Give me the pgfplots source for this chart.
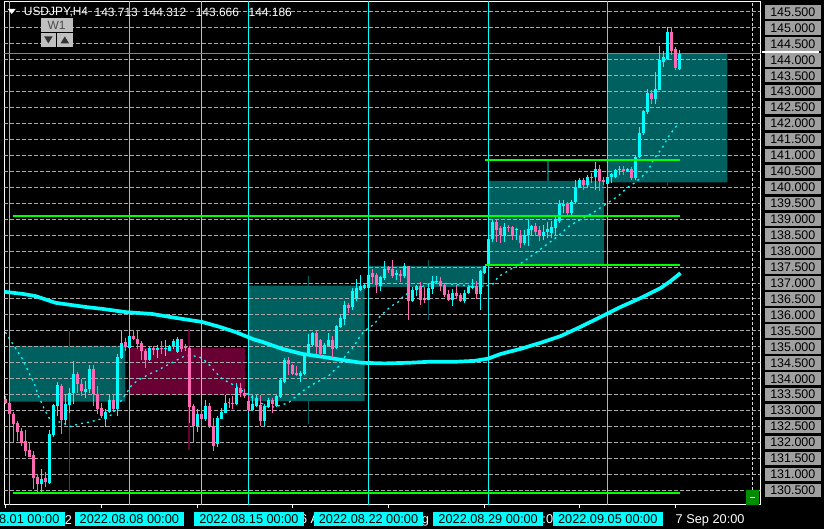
\documentclass[border=0pt]{standalone}
\usepackage{pgfplots}
\pgfplotsset{compat=1.18}
\usepackage{pgfplotstable}
\usepackage{fontspec}
\setmainfont{Liberation Sans}
\definecolor{bull}{RGB}{0,255,255}
\definecolor{bear}{RGB}{255,105,180}
\definecolor{wteal}{RGB}{0,96,96}
\definecolor{wmag}{RGB}{104,0,52}
\definecolor{gridc}{RGB}{170,170,170}
\definecolor{lblgray}{RGB}{160,160,160}
\definecolor{mtgreen}{RGB}{0,255,0}
\definecolor{bidc}{RGB}{119,136,153}
\definecolor{btn}{RGB}{192,192,192}
\newcommand\lbl{\fontsize{12.5bp}{14bp}\selectfont}
\newcommand\xlbl{\fontsize{12.8bp}{14bp}\selectfont}
\newcommand\hdr{\fontsize{12bp}{14bp}\selectfont}

\pgfplotstableread{
i o h l c
-1 133.37 133.45 133.20 133.23
0 133.25 133.30 132.85 132.88
1 132.90 132.97 132.03 132.57
2 132.60 132.68 132.05 132.33
3 132.36 132.47 131.90 131.99
4 132.05 132.39 131.58 131.74
5 131.77 131.99 131.53 131.56
6 131.60 131.74 130.54 130.90
7 130.93 131.00 130.44 130.70
8 130.70 131.17 130.44 130.85
9 130.90 131.06 130.60 130.75
10 130.73 132.39 130.70 132.26
11 132.22 133.22 132.18 133.17
12 133.15 133.90 132.83 133.79
13 133.77 133.82 132.26 132.71
14 132.71 133.51 132.57 133.20
15 133.18 133.72 132.94 133.56
16 133.54 134.55 133.20 134.14
17 134.14 134.20 133.56 133.82
18 133.85 133.98 133.46 133.61
19 133.59 133.93 133.40 133.69
20 133.69 134.43 133.56 134.29
21 134.29 134.42 133.15 133.51
22 133.53 133.77 132.90 133.04
23 133.09 133.25 132.76 132.83
24 132.73 133.04 132.50 132.97
25 132.97 133.49 132.94 133.32
26 133.32 133.51 132.97 133.04
27 133.04 134.76 132.83 134.68
28 134.66 135.49 134.62 135.12
29 135.15 135.28 134.86 134.99
30 134.95 135.39 134.92 135.35
31 135.35 135.49 135.20 135.23
32 135.25 135.54 134.92 135.10
33 135.12 135.18 134.58 134.86
34 134.86 134.92 134.34 134.60
35 134.60 135.02 134.57 134.97
36 134.97 135.04 134.74 134.89
37 134.90 135.05 134.66 134.95
38 134.94 135.18 134.76 134.92
39 134.92 135.20 134.71 134.97
40 134.88 135.07 134.86 135.04
41 135.02 135.23 134.92 135.18
42 134.84 135.30 134.81 135.23
43 135.23 135.26 134.84 134.92
44 134.99 135.09 134.86 134.95
45 134.97 135.02 132.62 133.11
46 133.15 133.20 132.00 132.52
47 132.52 133.04 132.34 132.88
48 132.88 133.15 132.52 132.73
49 132.73 133.32 132.68 133.15
50 133.15 133.25 132.47 132.52
51 132.52 132.78 131.74 131.90
52 131.95 132.83 131.86 132.78
53 132.75 133.09 132.73 132.97
54 132.94 133.49 132.91 133.25
55 133.27 133.38 133.09 133.23
56 133.25 133.46 133.04 133.20
57 133.20 133.88 133.18 133.70
58 133.70 133.88 133.43 133.56
59 133.56 133.67 133.39 133.46
60 133.30 133.50 133.00 133.01
61 133.01 133.50 132.99 133.20
62 133.15 133.50 133.10 133.39
63 133.18 133.50 132.52 132.68
64 132.68 133.20 132.52 133.15
65 133.11 133.39 133.07 133.33
66 133.33 133.39 132.94 133.20
67 133.15 133.50 133.10 133.46
68 133.44 134.01 133.41 133.96
69 133.90 134.66 133.87 134.60
70 134.60 134.68 134.13 134.45
71 134.42 134.45 134.11 134.14
72 134.19 134.40 134.08 134.11
73 134.08 134.24 133.90 134.19
74 134.14 134.81 134.11 134.76
75 134.78 135.39 134.71 135.09
76 135.06 135.47 135.02 135.42
77 135.42 135.49 134.78 135.02
78 135.20 135.23 134.71 134.78
79 134.78 135.13 134.76 135.07
80 135.04 135.44 135.02 135.20
81 135.20 135.33 134.66 134.92
82 134.95 135.68 134.92 135.65
83 135.62 136.01 135.60 135.89
84 135.86 136.43 135.70 136.30
85 136.30 136.38 136.06 136.22
86 136.24 136.84 136.17 136.76
87 136.50 137.14 136.43 136.84
88 136.79 137.24 136.74 136.90
89 136.84 136.97 136.82 136.93
90 136.84 137.28 136.82 137.26
91 137.30 137.44 137.00 137.20
92 137.26 137.31 136.69 136.95
93 136.92 137.23 136.74 137.19
94 137.16 137.68 137.10 137.44
95 137.47 137.54 137.31 137.40
96 137.44 137.73 137.16 137.23
97 137.26 137.40 137.08 137.31
98 137.29 137.42 137.02 137.21
99 137.21 137.62 137.16 137.54
100 137.52 137.54 135.85 136.43
101 136.43 136.87 136.40 136.79
102 136.77 136.95 136.58 136.92
103 136.90 137.02 136.32 136.48
104 136.50 136.87 136.37 136.48
105 136.48 136.98 136.48 136.84
106 136.81 137.21 136.67 137.05
107 137.02 137.23 137.00 137.05
108 137.05 137.19 136.74 136.92
109 136.95 137.00 136.56 136.64
110 136.67 136.79 136.45 136.46
111 136.46 136.81 136.29 136.69
112 136.69 136.95 136.50 136.58
113 136.64 136.69 136.40 136.43
114 136.43 136.77 136.37 136.69
115 136.69 136.95 136.66 136.87
116 136.84 137.12 136.81 136.92
117 136.92 137.05 136.50 136.67
118 136.67 137.40 136.17 137.37
119 137.33 137.54 137.28 137.52
120 137.54 138.41 137.52 138.38
121 138.38 138.98 138.30 138.90
122 138.90 138.98 138.30 138.67
123 138.72 138.79 138.27 138.51
124 138.46 138.88 138.30 138.75
125 138.77 138.82 138.61 138.72
126 138.75 138.79 138.35 138.46
127 138.67 138.74 138.35 138.71
128 138.51 138.67 138.09 138.27
129 138.27 138.67 138.20 138.51
130 138.51 138.98 138.15 138.69
131 138.67 138.82 138.51 138.79
132 138.79 138.88 138.46 138.61
133 138.67 138.79 138.33 138.46
134 138.46 138.82 138.35 138.61
135 138.61 138.90 138.41 138.69
136 138.56 138.93 138.41 138.75
137 138.72 139.10 138.46 139.00
138 138.93 139.60 138.88 139.48
139 139.41 139.60 139.19 139.48
140 139.50 139.55 139.14 139.19
141 139.19 139.60 139.14 139.55
142 139.55 140.23 139.50 140.02
143 140.02 140.28 139.97 140.23
144 140.23 140.28 139.92 140.07
145 140.07 140.39 139.97 140.33
146 140.33 140.44 140.13 140.30
147 140.33 140.80 139.92 140.59
148 140.59 140.70 139.90 140.21
149 140.23 140.31 140.07 140.18
150 140.10 140.33 140.04 140.31
151 140.31 140.46 140.13 140.42
152 140.33 140.59 140.28 140.54
153 140.54 140.67 140.38 140.59
154 140.59 140.67 140.38 140.52
155 140.52 140.62 140.49 140.59
156 140.59 140.65 140.23 140.28
157 140.28 141.01 140.23 140.96
158 140.94 141.90 140.91 141.71
159 141.69 142.44 141.64 142.40
160 142.36 143.09 142.31 142.96
161 142.96 143.04 142.62 142.78
162 142.78 143.61 142.62 143.09
163 143.06 144.42 143.04 144.00
164 143.92 144.29 143.77 144.08
165 144.03 145.02 143.98 144.86
166 144.86 145.02 144.14 144.29
167 144.34 144.40 143.67 143.75
168 143.713 144.312 143.666 144.186
}\candles

\pgfplotstableread{
x p
-1.75 136.73
3.25 136.66
6.5 136.59
11.5 136.38
19 136.25
23.25 136.19
29 136.09
35.75 136.03
41.5 135.91
48.25 135.78
52.5 135.63
56.5 135.47
61.5 135.22
63.25 135.16
68.25 134.94
73.25 134.78
78.25 134.69
83.25 134.59
88.25 134.50
94 134.48
100 134.50
105 134.53
111.5 134.53
116.5 134.56
120 134.63
123.25 134.78
128.25 134.94
133.25 135.13
138.25 135.34
143.25 135.63
148.25 135.94
153.25 136.25
158.25 136.53
163.25 136.84
165.75 137.06
168.25 137.31
}\maslow

\pgfplotstableread{
x p
-1.75 135.63
-1 135.44
0.25 135.19
1.25 135.00
2 134.84
3 134.66
3.75 134.47
4.5 134.28
5.25 134.06
6 133.91
6.5 133.72
7 133.53
8.25 133.16
9 132.97
10.25 132.69
12 132.66
13.75 132.59
15.25 132.50
17.5 132.59
19.5 132.63
21.5 132.69
23.25 132.75
25.75 132.88
27.75 133.28
29.5 133.59
30.5 133.78
32 133.94
33.75 134.06
35.25 134.16
37 134.25
38.75 134.38
40.25 134.47
42 134.59
44 134.72
45.75 134.72
47.5 134.69
49 134.56
50.25 134.41
51.5 134.22
53.25 134.00
55 133.88
56.5 133.78
58.25 133.63
59.5 133.53
62 133.31
65.25 133.09
67.75 133.16
70 133.25
72 133.47
74 133.66
76.25 133.84
78.25 133.97
80 134.09
81.25 134.25
82.75 134.41
84.5 134.78
86.25 135.00
87.75 135.31
89 135.50
91.5 135.72
92.75 135.94
94 136.09
95.75 136.28
97.5 136.41
98.75 136.59
100.75 136.75
103.25 136.88
106.25 137.03
110.25 136.97
113.25 136.94
116.25 136.88
119.5 136.91
121.25 136.97
122.5 137.19
125.75 137.44
128.75 137.66
131.5 137.91
134.5 138.19
137.5 138.47
140.25 138.78
143.25 139.00
146.5 139.22
149.5 139.47
152.5 139.72
155 140.00
157 140.16
160 140.50
161.5 140.88
163.75 141.25
165.25 141.59
166.5 141.81
167.75 142.00
}\mafast

\begin{document}
\pagecolor{black}
\begin{tikzpicture}[x=1bp,y=1bp]
\useasboundingbox (0,0) rectangle (824,531);
\begin{axis}[
  at={(1.5bp,24.5bp)}, anchor=south west, scale only axis,
  width=759bp, height=505bp,
  xmin=-1.375, xmax=188.375, ymin=130.046875, ymax=145.828125,
  axis line style={white, line width=1bp},
  ytick={130.5,131,131.5,132,132.5,133,133.5,134,134.5,135,135.5,136,136.5,137,137.5,138,138.5,139,139.5,140,140.5,141,141.5,142,142.5,143,143.5,144,144.5,145,145.5},
  yticklabels={130.500,131.000,131.500,132.000,132.500,133.000,133.500,134.000,134.500,135.000,135.500,136.000,136.500,137.000,137.500,138.000,138.500,139.000,139.500,140.000,140.500,141.000,141.500,142.000,142.500,143.000,143.500,144.000,144.500,145.000,145.500},
  ytick pos=right, yticklabel pos=right,
  ytick style={draw=none},
  yticklabel style={anchor=west, fill=lblgray, text=black, font=\lbl, inner sep=0pt, minimum width=56bp, minimum height=13.5bp, xshift=1bp},
  xtick={-1,23,47,71,95,119,143,167},
  xticklabels={29 Jul 2022,,,16 Aug 20:00,22 Aug 20:00,26 Aug 20:00,,7 Sep 20:00},
  xtick pos=bottom, tick align=outside, major tick length=3bp,
  xtick style={white, line width=1bp},
  xticklabel style={anchor=north west, text=white, font=\xlbl, inner sep=0pt, yshift=-7bp},
  extra x ticks={0,30,60,90,120,150},
  extra x tick labels={2022.08.01 00:00,2022.08.08 00:00,2022.08.15 00:00,2022.08.22 00:00,2022.08.29 00:00,2022.09.05 00:00},
  extra x tick style={tick style={draw=none},
    xticklabel style={anchor=north, fill=bull, text=black, minimum width=110bp, minimum height=14bp, inner sep=0pt, yshift=3bp}},
]
% weekly (W1) candle boxes and ranges
\addplot[fill=wteal, draw=none] coordinates {(0,133.28) (29,133.28) (29,135.03) (0,135.03) (0,133.28)};
\addplot[fill=wmag, draw=none] coordinates {(30,134.97) (59,134.97) (59,133.49) (30,133.49) (30,134.97)};
\addplot[fill=wteal, draw=none] coordinates {(60,133.30) (89,133.30) (89,136.92) (60,136.92) (60,133.30)};
\addplot[fill=wteal, draw=none] coordinates {(90,136.88) (119,136.88) (119,137.54) (90,137.54) (90,136.88)};
\addplot[fill=wteal, draw=none] coordinates {(120,137.54) (149,137.54) (149,140.20) (120,140.20) (120,137.54)};
\addplot[fill=wteal, draw=none] coordinates {(150,140.16) (180,140.16) (180,144.20) (150,144.20) (150,140.16)};
\addplot[wteal, line width=1.5bp] coordinates {(15,130.44) (15,135.50)};
\addplot[wmag, line width=1.5bp] coordinates {(45,131.75) (45,135.56)};
\addplot[wteal, line width=1.5bp] coordinates {(75,132.59) (75,137.23)};
\addplot[wteal, line width=1.5bp] coordinates {(105,135.85) (105,137.73)};
\addplot[wteal, line width=1.5bp] coordinates {(135,137.52) (135,140.82)};
\addplot[wteal, line width=1.5bp] coordinates {(165,140.04) (165,145.02)};
% grid
\pgfplotsinvokeforeach{130.5,131,131.5,132,132.5,133,133.5,134,134.5,135,135.5,136,136.5,137,137.5,138,138.5,139,139.5,140,140.5,141,141.5,142,142.5,143,143.5,144,144.5,145,145.5}{
  \addplot[gridc, line width=1bp, dash pattern=on 4bp off 2bp] coordinates {(-1.375,#1) (188.375,#1)};
}
\pgfplotsinvokeforeach{0,30,60,90,120,150}{
  \addplot[bull, line width=1bp] coordinates {(#1,130.046875) (#1,145.828125)};
}
\addplot[white!75!black, line width=1bp] coordinates {(48,130.046875) (48,145.828125)};
\addplot[white!85!black, line width=1bp, dash pattern=on 3bp off 2bp] coordinates {(186.25,130.046875) (186.25,145.828125)};
\addplot[bidc, line width=1bp] coordinates {(-1.375,144.186) (188.375,144.186)};
% moving averages
\addplot[bull, line width=3.7bp] table[x=x,y=p] {\maslow};
\addplot[bull, line width=1.3bp, dash pattern=on 2bp off 4bp] table[x=x,y=p] {\mafast};
% candles: wicks
\addplot[bull, line width=1bp, mark=none, restrict expr to domain={\thisrow{c}-\thisrow{o}}{0:100},
  quiver={u=0, v=\thisrow{h}-\thisrow{l}}] table[x=i, y=l] {\candles};
\addplot[bear, line width=1bp, mark=none, restrict expr to domain={\thisrow{o}-\thisrow{c}}{0.000001:100},
  quiver={u=0, v=\thisrow{h}-\thisrow{l}}] table[x=i, y=l] {\candles};
% candles: bodies
\addplot[bull, line width=3bp, mark=none, restrict expr to domain={\thisrow{c}-\thisrow{o}}{0:100},
  quiver={u=0, v={max(\thisrow{c}-\thisrow{o},0.03)}}] table[x=i, y=o] {\candles};
\addplot[bear, line width=3bp, mark=none, restrict expr to domain={\thisrow{o}-\thisrow{c}}{0.000001:100},
  quiver={u=0, v={max(\thisrow{o}-\thisrow{c},0.03)}}] table[x=i, y=c] {\candles};
% green levels
\addplot[mtgreen, line width=2.3bp] coordinates {(0.75,130.42) (168.25,130.42)};
\addplot[mtgreen, line width=2.3bp] coordinates {(0.75,139.10) (168.25,139.10)};
\addplot[mtgreen, line width=2.3bp] coordinates {(119.25,137.56) (168.25,137.56)};
\addplot[mtgreen, line width=2.3bp] coordinates {(119.25,140.85) (168.25,140.85)};
\end{axis}
% header
\fill[white] (5,522) -- (13,522) -- (9,517) -- cycle;
\node[anchor=west, text=white, font=\hdr, inner sep=0pt] at (21,518.5) {USDJPY,H4};
\node[anchor=west, text=white, font=\hdr, inner sep=0pt] at (92,518.5) {143.713};
\node[anchor=west, text=white, font=\hdr, inner sep=0pt] at (140.5,518.5) {144.312};
\node[anchor=west, text=white, font=\hdr, inner sep=0pt] at (193.5,518.5) {143.666};
\node[anchor=west, text=white, font=\hdr, inner sep=0pt] at (246.5,518.5) {144.186};
\fill[btn] (38,499) rectangle (70,513);
\node[text=black!70, font=\hdr, inner sep=0pt] at (54,506) {W1};
\fill[btn] (38,484) rectangle (53.5,498);
\fill[btn] (54.5,484) rectangle (70,498);
\fill[black!80] (41.5,494.5) -- (50,494.5) -- (45.75,487.5) -- cycle;
\fill[black!80] (58,487.5) -- (66.5,487.5) -- (62.25,494.5) -- cycle;
% bid marker on price scale
\draw[white, line width=1.5bp] (762,479) -- (819,479);
% green button
\fill[green!55!black] (746,24) rectangle (759,39);
\draw[white, line width=1bp] (750,31.5) -- (755,31.5);
\end{tikzpicture}
\end{document}
